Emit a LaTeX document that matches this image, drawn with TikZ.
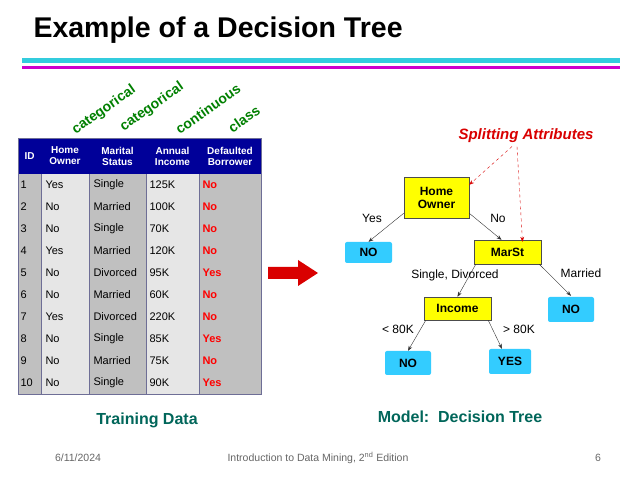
\documentclass[tikz,border=0pt]{standalone}
\usepackage{fontspec}
\setmainfont{Liberation Sans}
\usetikzlibrary{arrows.meta}
\definecolor{navy}{RGB}{0,0,153}
\definecolor{dgreen}{RGB}{0,128,0}
\definecolor{teal2}{RGB}{0,102,90}
\definecolor{cyanl}{RGB}{51,204,221}
\definecolor{magl}{RGB}{204,0,204}
\definecolor{skyb}{RGB}{51,204,255}
\definecolor{ylw}{RGB}{255,255,0}
\definecolor{cdark}{RGB}{192,192,192}
\definecolor{clight}{RGB}{230,230,230}
\definecolor{bord}{RGB}{110,110,150}
\begin{document}
\begin{tikzpicture}[x=1pt,y=-1pt,
  hd/.style={text=white,font=\fontsize{10}{11}\selectfont\bfseries,align=center},
  cell/.style={anchor=west,font=\fontsize{11}{12}\selectfont},
  rc/.style={anchor=west,font=\fontsize{11}{12}\selectfont\bfseries,text=red},
  attr/.style={font=\fontsize{14}{15}\selectfont\bfseries,text=dgreen,rotate=35},
  yb/.style={draw=black!70,fill=ylw,font=\fontsize{12}{13}\selectfont\bfseries,align=center,inner sep=0pt},
  bb/.style={fill=skyb,rounded corners=2pt,font=\fontsize{12}{13}\selectfont\bfseries,inner sep=0pt},
  lab/.style={font=\fontsize{12}{13}\selectfont},
  edge/.style={-{Stealth[length=5pt]},black!80,thin},
  sa/.style={-{Stealth[length=5pt]},red!85!black,dashed,thin},
  foot/.style={font=\fontsize{10.5}{11}\selectfont,text=black!60}]
\useasboundingbox (0,0) rectangle (638,478);
\fill[white] (0,0) rectangle (638,478);
\node[anchor=west,font=\fontsize{28.5}{30}\selectfont\bfseries] (title) at (30,30) {Example of a Decision Tree};
\fill[cyanl] (22,58) rectangle (620,63);
\fill[magl] (22,66) rectangle (620,69);
% attribute labels
\node[attr] (a1) at (104,110) {categorical};
\node[attr] (a2) at (152,107) {categorical};
\node[attr] (a3) at (208,109) {continuous};
\node[attr] (a4) at (244,119) {class};
% table
\fill[navy] (18,138) rectangle (261,174);
\fill[cdark] (18,174) rectangle (41,394);
\fill[clight] (41,174) rectangle (89,394);
\fill[cdark] (89,174) rectangle (146,394);
\fill[clight] (146,174) rectangle (199,394);
\fill[cdark] (199,174) rectangle (261,394);
\foreach \x in {41,89,146,199} \draw[bord,line width=0.8pt] (\x,174) -- (\x,394);
\draw[bord,line width=0.8pt] (18,138) rectangle (261,394);
\node[hd] (h1) at (29.5,156) {ID};
\node[hd] (h2) at (65,156) {Home\\Owner};
\node[hd] (h3) at (117.5,156) {Marital\\Status};
\node[hd] (h4) at (172.5,156) {Annual\\Income};
\node[hd] (h5) at (230,156) {Defaulted\\Borrower};
\foreach \i/\h/\m/\inc/\c in {1/Yes/Single/125K/No,2/No/Married/100K/No,3/No/Single/70K/No,4/Yes/Married/120K/No,5/No/Divorced/95K/Yes,6/No/Married/60K/No,7/Yes/Divorced/220K/No,8/No/Single/85K/Yes,9/No/Married/75K/No,10/No/Single/90K/Yes}{
  \pgfmathsetmacro{\yy}{185+22*(\i-1)}
  \node[cell] (id\i) at (17,\yy) {\i};
  \node[cell] (ho\i) at (42,\yy) {\h};
  \node[cell] (ms\i) at (90,\yy) {\m};
  \node[cell] (ai\i) at (146,\yy) {\inc};
  \node[rc] (db\i) at (199,\yy) {\c};
}
% red arrow
\fill[red!85!black] (268,267) -- (298,267) -- (298,260) -- (318,273) -- (298,286) -- (298,279) -- (268,279) -- cycle;
% tree
\node[text=red!85!black,font=\fontsize{15}{16}\selectfont\bfseries\itshape] (split) at (526,136) {Splitting Attributes};
\node[yb,minimum width=65pt,minimum height=41pt] (ho) at (436.5,197.5) {Home\\Owner};
\node[bb,minimum width=47pt,minimum height=21pt] (no1) at (368.5,252.5) {NO};
\node[yb,minimum width=67pt,minimum height=24pt] (mar) at (507.5,252) {MarSt};
\node[yb,minimum width=67pt,minimum height=23pt] (inc) at (457.5,308.5) {Income};
\node[bb,minimum width=46pt,minimum height=25pt] (no2) at (571,309.5) {NO};
\node[bb,minimum width=46pt,minimum height=24pt] (no3) at (408,363) {NO};
\node[bb,minimum width=42pt,minimum height=25pt] (yes) at (510,361.5) {YES};
\draw[edge] (ho.south west) ++(0,-5) coordinate (c1) -- (no1.north);
\draw[edge] (ho.south east) ++(0,-5) coordinate (c2) -- ([xshift=-6pt]mar.north);
\draw[edge] ([xshift=2pt]mar.south west) -- (inc.north);
\draw[edge] ([xshift=-2pt]mar.south east) -- ([yshift=1pt]no2.north);
\draw[edge] ([xshift=2pt]inc.south west) -- (no3.north);
\draw[edge] ([xshift=-3pt]inc.south east) -- ([xshift=-8pt]yes.north);
\draw[sa] ([xshift=-14pt]split.south) -- ([yshift=-8pt]ho.north east);
\draw[sa] ([xshift=-9pt]split.south) -- ([xshift=15pt,yshift=-2pt]mar.north);
\node[lab] (ly) at (372,218) {Yes};
\node[lab] (ln) at (498,218) {No};
\node[lab] (lsd) at (455,275) {Single, Divorced};
\node[lab] (lm) at (581,273) {Married};
\node[lab] (l80a) at (398,329) {< 80K};
\node[lab] (l80b) at (519,329) {> 80K};
\node[text=teal2,font=\fontsize{16}{17}\selectfont\bfseries] (td) at (147,420) {Training Data};
\node[text=teal2,font=\fontsize{16}{17}\selectfont\bfseries] (md) at (460,417) {Model:\ \ Decision Tree};
\node[foot] (f1) at (78,458) {6/11/2024};
\node[foot] (f2) at (318,458) {Introduction to Data Mining, 2\textsuperscript{nd} Edition};
\node[foot] (f3) at (598,458) {6};
\end{tikzpicture}
\end{document}
